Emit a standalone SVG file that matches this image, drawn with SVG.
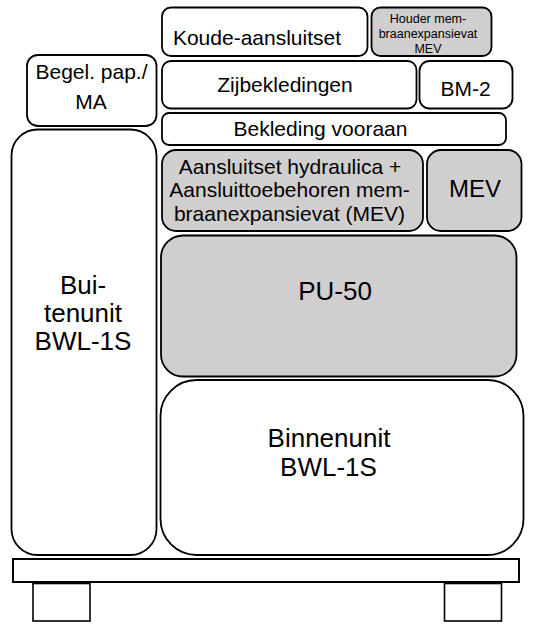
<svg xmlns="http://www.w3.org/2000/svg" width="535" height="624" viewBox="0 0 535 624">
<style>
.b{fill:#ffffff;stroke:#000;stroke-width:1.8}
.g{fill:#d0cece;stroke:#000;stroke-width:1.8}
.t{font-family:"Liberation Sans",Arial,sans-serif;font-size:21px;fill:#000;text-anchor:middle}
</style>
<rect width="535" height="624" fill="#fff"/>
<g id="koude"><rect class="b" x="162" y="7.5" width="205.5" height="48.5" rx="9"/><text class="t" x="257" y="44.5">Koude-aansluitset</text></g>
<g id="houder"><rect class="g" x="371.5" y="7.5" width="120" height="48.5" rx="9"/><text class="t" style="font-size:12.5px" x="428" y="22.5">Houder mem-</text><text class="t" style="font-size:12.5px" x="428" y="38">braanexpansievat</text><text class="t" style="font-size:12.5px" x="428" y="53">MEV</text></g>
<g id="begel"><rect class="b" x="27" y="55" width="129.5" height="71" rx="11"/><text class="t" x="91.5" y="78.5">Begel. pap./</text><text class="t" x="91" y="108.5">MA</text></g>
<g id="zijbekledingen"><rect class="b" x="162" y="61" width="254.5" height="47.5" rx="9"/><text class="t" x="285" y="91.5">Zijbekledingen</text></g>
<g id="bm2"><rect class="b" x="419.5" y="61" width="93" height="47.5" rx="10"/><text class="t" x="465.5" y="95.5">BM-2</text></g>
<g id="bekleding"><rect class="b" x="162" y="113" width="344" height="32" rx="7"/><text class="t" x="320.5" y="136">Bekleding vooraan</text></g>
<g id="aansluitset"><rect class="g" x="162" y="150" width="261" height="81" rx="14"/><text class="t" x="290" y="173.5">Aansluitset hydraulica +</text><text class="t" x="289.5" y="197">Aansluittoebehoren mem-</text><text class="t" x="289.5" y="220.5">braanexpansievat (MEV)</text></g>
<g id="mev"><rect class="g" x="427" y="150" width="94.5" height="81" rx="14"/><text class="t" style="font-size:24px" x="475" y="196.5">MEV</text></g>
<g id="pu50"><rect class="g" x="161" y="235.5" width="355.5" height="141" rx="22"/><text class="t" style="font-size:26px" x="335" y="300">PU-50</text></g>
<g id="buitenunit"><rect class="b" x="11.5" y="129.5" width="145" height="425.5" rx="26"/><text class="t" style="font-size:26px" x="83" y="293.5">Bui-</text><text class="t" style="font-size:26px" x="83" y="321.5">tenunit</text><text class="t" style="font-size:26px" x="83" y="350">BWL-1S</text></g>
<g id="binnenunit"><rect class="b" x="160.5" y="380" width="363" height="175" rx="36"/><text class="t" style="font-size:26px" x="329" y="446.5">Binnenunit</text><text class="t" style="font-size:26px" x="328.5" y="476">BWL-1S</text></g>
<g id="pallet"><rect class="b" x="13" y="559" width="506" height="23" style="stroke-width:2"/><rect class="b" x="33" y="583.5" width="57" height="37.5" style="stroke-width:1.6"/><rect class="b" x="444.5" y="583.5" width="57" height="37.5" style="stroke-width:1.6"/></g>
<g id="connectors"/>
</svg>
